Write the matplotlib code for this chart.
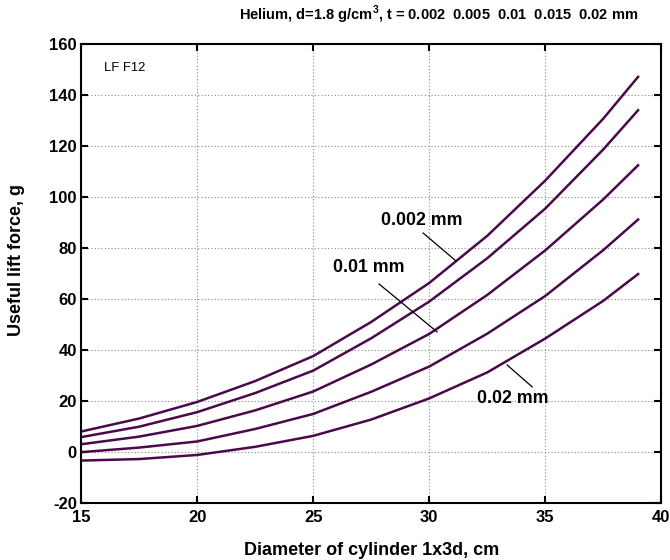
import matplotlib
matplotlib.use("Agg")
import matplotlib.pyplot as plt

plt.rcParams["font.family"] = ["Liberation Sans", "DejaVu Sans"]
plt.rcParams["mathtext.fontset"] = "custom"
plt.rcParams["mathtext.bf"] = "Liberation Sans:bold"
plt.rcParams["mathtext.rm"] = "Liberation Sans:bold"
plt.rcParams["axes.unicode_minus"] = False

# diameter of cylinder, cm
diameter = [15, 17.5, 20, 22.5, 25, 27.5, 30, 32.5, 35, 37.5, 39]

# useful lift force, g, one list per film thickness
lift_t0002 = [8.0, 13.1, 19.6, 27.8, 37.6, 51.0, 66.3, 84.8, 106.5, 130.8, 147.2]
lift_t0005 = [5.8, 9.9, 15.6, 23.1, 31.9, 44.6, 59.0, 76.0, 95.5, 118.7, 134.1]
lift_t0010 = [3.0, 6.0, 10.2, 16.3, 23.7, 34.3, 46.3, 61.6, 79.1, 99.1, 112.5]
lift_t0015 = [-0.1, 1.7, 4.1, 9.0, 14.9, 23.6, 33.5, 46.4, 61.2, 79.2, 91.2]
lift_t0020 = [-3.4, -2.8, -1.2, 2.0, 6.3, 12.7, 21.0, 31.2, 44.5, 59.3, 69.8]

series = [lift_t0002, lift_t0005, lift_t0010, lift_t0015, lift_t0020]

x_ticks = [15, 20, 25, 30, 35, 40]
y_ticks = [-20, 0, 20, 40, 60, 80, 100, 120, 140, 160]

line_color = "#4a0a4a"

fig = plt.figure(figsize=(6.7, 5.6), dpi=100)
ax = fig.add_axes([0.121, 0.102, 0.866, 0.819])

for values in series:
    ax.plot(diameter, values, color=line_color, linewidth=1.8)

ax.set_xlim(15, 40)
ax.set_ylim(-20, 160)
ax.set_xticks(x_ticks)
ax.set_yticks(y_ticks)
ax.grid(True, color="#888888", linestyle=(0, (1, 2)), linewidth=0.8)
ax.tick_params(direction="in", length=5, width=1.5, top=True, right=True,
               labelsize=12)
ax.tick_params(axis="x", pad=5)
ax.tick_params(axis="y", pad=3)
for label in ax.get_xticklabels() + ax.get_yticklabels():
    label.set_fontweight("bold")
for spine in ax.spines.values():
    spine.set_linewidth(1.5)

ax.set_xlabel("Diameter of cylinder 1x3d, cm", fontsize=13, fontweight="bold")
ax.set_ylabel("Useful lift force, g", fontsize=13, fontweight="bold")
ax.xaxis.set_label_coords(0.5, -0.086)
ax.yaxis.set_label_coords(-0.096, 0.53)

fig.text(0.655, 0.973, r"Helium, d=1.8 g/cm$^{\mathbf{3}}$, t = 0.002  0.005  0.01  0.015  0.02 mm",
         ha="center", va="center", fontsize=10.5, fontweight="bold")

ax.text(16.0, 150.5, "LF F12", fontsize=9.4, ha="left", va="center")

# labels with pointer lines
ax.text(29.7, 91, "0.002 mm", fontsize=12.8, fontweight="bold", ha="center", va="center")
ax.plot([29.74, 31.16], [85.9, 74.9], color="black", linewidth=0.9)
ax.text(27.4, 72.2, "0.01 mm", fontsize=12.8, fontweight="bold", ha="center", va="center")
ax.plot([27.84, 30.34], [65.9, 47.1], color="black", linewidth=0.9)
ax.text(33.6, 20.8, "0.02 mm", fontsize=12.8, fontweight="bold", ha="center", va="center")
ax.plot([33.36, 34.44], [34.1, 25.5], color="black", linewidth=0.9)

fig.savefig("out.png", dpi=100)
plt.close(fig)
